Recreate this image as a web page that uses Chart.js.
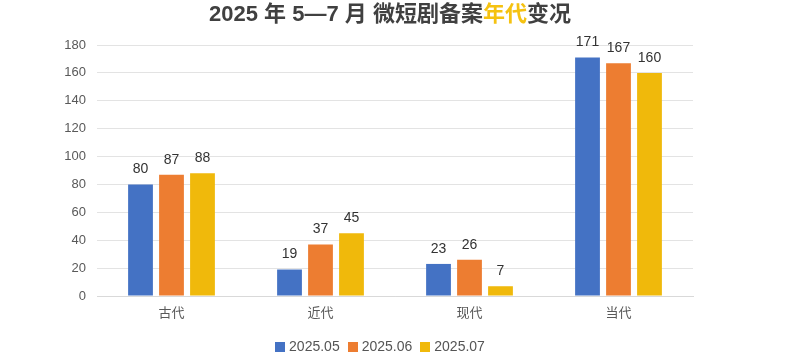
<!DOCTYPE html>
<html>
<head>
<meta charset="utf-8">
<script src="https://cdn.jsdelivr.net/npm/chart.js@4/dist/chart.umd.min.js"></script>
<style>
  html, body { margin: 0; padding: 0; background: #fff; }
  #wrap { position: relative; width: 800px; height: 359px; overflow: hidden; }
  #title { position: absolute; left: 0; width: 780px; top: 1px; text-align: center;
    font: bold 22px "Liberation Sans", "Noto Sans CJK SC", sans-serif; color: #404040; white-space: nowrap; line-height: 26px; }
  #title .hl { color: #F5C211; }
  #legend { position: absolute; left: 0; width: 760px; top: 337px; text-align: center;
    font: 14px "Liberation Sans", sans-serif; color: #555; line-height: 18px; white-space: nowrap; }
  #legend .item { display: inline-block; margin: 0 4px; }
  #legend .sw { display: inline-block; width: 10px; height: 10px; margin-right: 4px; vertical-align: -1px; }
  canvas { position: absolute; left: 0; top: 0; }
</style>
</head>
<body>
<div id="wrap">
  <canvas id="c" width="800" height="359"></canvas>
  <div id="title">2025 年 5—7 月 微短剧备案<span class="hl">年代</span>变况</div>
  <div id="legend"></div>
</div>
<script>
const categories = ["古代", "近代", "现代", "当代"];
const seriesNames = ["2025.05", "2025.06", "2025.07"];
const values0505 = [80, 19, 23, 171];
const values0506 = [87, 37, 26, 167];
const values0507 = [88, 45, 7, 160];
const yTicks = [0, 20, 40, 60, 80, 100, 120, 140, 160, 180];
const colors = ["#4472C4", "#ED7D31", "#F0B90B"];

const seriesValues = [values0505, values0506, values0507];

const legendEl = document.getElementById('legend');
seriesNames.forEach((n, i) => {
  const s = document.createElement('span');
  s.className = 'item';
  s.innerHTML = '<span class="sw" style="background:' + colors[i] + '"></span>' + n;
  legendEl.appendChild(s);
});

const valueLabels = {
  id: 'valueLabels',
  afterDatasetsDraw(chart) {
    const ctx = chart.ctx;
    ctx.save();
    ctx.font = '14px "Liberation Sans", sans-serif';
    ctx.fillStyle = '#333';
    ctx.textAlign = 'center';
    ctx.textBaseline = 'bottom';
    chart.data.datasets.forEach((ds, di) => {
      chart.getDatasetMeta(di).data.forEach((bar, i) => {
        ctx.fillText(String(ds.data[i]), bar.x, bar.y - 8);
      });
    });
    ctx.restore();
  }
};

new Chart(document.getElementById('c'), {
  type: 'bar',
  data: {
    labels: categories,
    datasets: seriesNames.map((n, i) => ({
      label: n,
      data: seriesValues[i],
      backgroundColor: colors[i],
      borderWidth: 0,
      categoryPercentage: 0.624,
      barPercentage: 0.8
    }))
  },
  options: {
    responsive: false,
    animation: false,
    layout: { padding: { top: 45, right: 107, bottom: 33, left: 0 } },
    plugins: {
      legend: { display: false },
      title: { display: false },
      tooltip: { enabled: false }
    },
    scales: {
      x: {
        grid: { display: false, drawTicks: false },
        border: { display: true, color: '#d9d9d9' },
        ticks: { font: { size: 13, family: '"Noto Sans CJK SC", sans-serif' }, color: '#595959', padding: 8 },
        afterFit(scale) { scale.height = 30; }
      },
      y: {
        min: 0, max: 180,
        afterBuildTicks(scale) { scale.ticks = yTicks.map(v => ({ value: v })); },
        grid: { color: '#e3e3e3', drawTicks: false },
        border: { display: false },
        ticks: { font: { size: 13, family: '"Liberation Sans", sans-serif' }, color: '#595959', padding: 11 },
        afterFit(scale) { scale.width = 97; }
      }
    }
  },
  plugins: [valueLabels]
});
</script>
</body>
</html>
